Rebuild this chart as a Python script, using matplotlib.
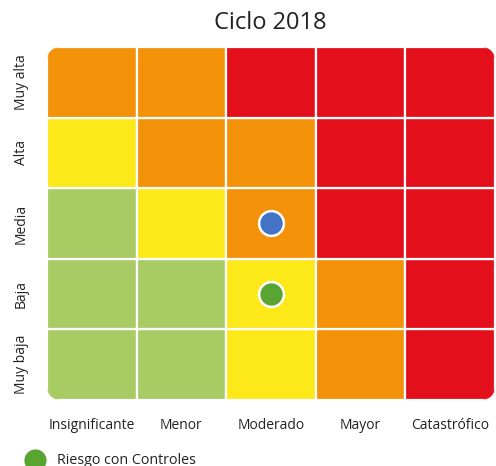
import matplotlib
matplotlib.use("Agg")
import numpy as np
import matplotlib.pyplot as plt
from matplotlib.patches import Rectangle, PathPatch
from matplotlib.path import Path
from matplotlib.lines import Line2D

plt.rcParams['font.family'] = ['Open Sans', 'DejaVu Sans']

title = "Ciclo 2018"
x_labels = ["Insignificante", "Menor", "Moderado", "Mayor", "Catastrófico"]
y_labels = ["Muy baja", "Baja", "Media", "Alta", "Muy alta"]  # bottom to top

# risk level per cell, rows bottom (Muy baja) to top (Muy alta)
levels = [
    ["G", "G", "Y", "O", "R"],
    ["G", "G", "Y", "O", "R"],
    ["G", "Y", "O", "R", "R"],
    ["Y", "O", "O", "R", "R"],
    ["O", "O", "R", "R", "R"],
]
level_colors = {"G": "#A8CB63", "Y": "#FDE81A", "O": "#F39208", "R": "#E30F1A"}

# points: (impact index, probability index)
inherent_x = [2]
inherent_y = [2]
controls_x = [2]
controls_y = [1]
controls_label = "Riesgo con Controles"

W, H = 496, 466
fig = plt.figure(figsize=(W / 100, H / 100), dpi=100)
left, right, top, bottom = 47, 495, 47, 400
aw, ah = right - left, bottom - top
ax = fig.add_axes([left / W, 1 - bottom / H, aw / W, ah / H])
ax.set_xlim(0, 5)
ax.set_ylim(0, 5)

# rounded clip outline in axes coordinates
r_px = 13
rx, ry = r_px / aw, r_px / ah
t = np.linspace(0, np.pi / 2, 16)
verts = []
for cx, cy, a0 in [(1 - rx, 1 - ry, 0), (rx, 1 - ry, np.pi / 2),
                   (rx, ry, np.pi), (1 - rx, ry, 3 * np.pi / 2)]:
    for a in a0 + t:
        verts.append((cx + rx * np.cos(a), cy + ry * np.sin(a)))
verts.append(verts[0])
clip_path = Path(verts)
clip = PathPatch(clip_path, transform=ax.transAxes, facecolor="none", edgecolor="none")
ax.add_patch(clip)

for r, row in enumerate(levels):
    for c, lv in enumerate(row):
        rect = Rectangle((c, r), 1, 1, facecolor=level_colors[lv],
                         edgecolor="white", linewidth=1.6)
        ax.add_patch(rect)
        rect.set_clip_path(clip)

ax.scatter([v + 0.5 for v in inherent_x], [v + 0.5 for v in inherent_y], s=320,
           color="#4472C4", edgecolor="white", linewidth=1.8, zorder=5)
ax.scatter([v + 0.5 for v in controls_x], [v + 0.5 for v in controls_y], s=320,
           color="#5AA532", edgecolor="white", linewidth=1.8, zorder=5)

for s in ax.spines.values():
    s.set_visible(False)
ax.set_xticks([i + 0.5 for i in range(5)])
ax.set_xticklabels(x_labels, fontsize=10, color="#222222")
ax.set_yticks([i + 0.5 for i in range(5)])
ax.set_yticklabels(y_labels, fontsize=10, color="#222222", rotation=90, va="center")
ax.tick_params(length=0)
ax.tick_params(axis="x", pad=13)
ax.tick_params(axis="y", pad=13)

fig.text(270 / W, 1 - 23 / H, title, ha="center", va="center", fontsize=17, color="#222222")

fig.add_artist(Line2D([35 / W], [1 - 460 / H], marker="o", markersize=16,
                      color="#5AA532", markeredgecolor="white", markeredgewidth=0,
                      transform=fig.transFigure))
fig.text(57 / W, 1 - 464.5 / H, controls_label, ha="left", va="baseline",
         fontsize=10.3, color="#222222")

fig.savefig("out.png", dpi=100)
